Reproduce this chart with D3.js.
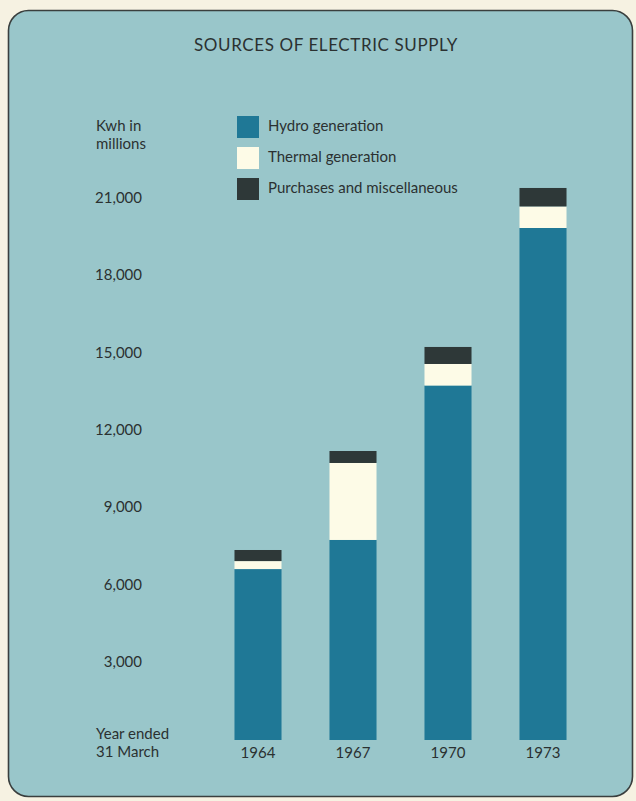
<!DOCTYPE html>
<html>
<head>
<meta charset="utf-8">
<script src="https://cdn.jsdelivr.net/npm/d3@7/dist/d3.min.js"></script>
<style>
  html, body { margin: 0; padding: 0; background: #f6f2e2; }
  svg { display: block; }
  text { font-family: Lato, "Open Sans", sans-serif; fill: #2b3131; }
</style>
</head>
<body>
<svg id="chart" width="636" height="801"></svg>
<script>
// ---- data ----
const years = ["1964", "1967", "1970", "1973"];
const hydro = [6630, 7760, 13750, 19860];
const thermal = [310, 2985, 835, 835];
const purchases = [430, 465, 660, 717];
const seriesNames = ["Hydro generation", "Thermal generation", "Purchases and miscellaneous"];
const seriesKeys = ["hydro", "thermal", "purchases"];
const tickValues = [3000, 6000, 9000, 12000, 15000, 18000, 21000];

const colors = { hydro: "#1f7896", thermal: "#fdfbe7", purchases: "#2e3838" };

const rows = years.map((y, i) => ({ year: y, hydro: hydro[i], thermal: thermal[i], purchases: purchases[i] }));

const svg = d3.select("#chart");

// panel
svg.append("rect")
  .attr("x", 8.5).attr("y", 10.5)
  .attr("width", 624).attr("height", 786)
  .attr("rx", 20).attr("ry", 20)
  .attr("fill", "#99c6ca")
  .attr("stroke", "#3a3f3e").attr("stroke-width", 1.6);

// title
svg.append("text")
  .attr("x", 326).attr("y", 51)
  .attr("text-anchor", "middle")
  .style("font-size", "17px")
  .style("letter-spacing", "0.6px")
  .text("SOURCES OF ELECTRIC SUPPLY");

// scales
const x = d3.scaleBand().domain(years).range([210.5, 590.5]).paddingInner(0.505).paddingOuter(0.2525);
const y = d3.scaleLinear().domain([0, 21000]).range([740, 198.6]);

// stacked bars
const stack = d3.stack().keys(seriesKeys);
const layers = stack(rows);

svg.append("g").selectAll("g")
  .data(layers)
  .join("g")
  .attr("fill", d => colors[d.key])
  .selectAll("rect")
  .data(d => d)
  .join("rect")
  .attr("x", d => x(d.data.year))
  .attr("width", x.bandwidth())
  .attr("y", d => y(d[1]))
  .attr("height", d => y(d[0]) - y(d[1]));

// y axis
const yAxis = d3.axisLeft(y).tickValues(tickValues).tickSize(0).tickPadding(0).tickFormat(d3.format(","));
const gy = svg.append("g").attr("transform", "translate(142,-1)").call(yAxis);
gy.select(".domain").remove();
gy.selectAll("text").style("font-size", "15px").style("font-family", "Lato, sans-serif").attr("fill", "#2b3131");

// x axis
const xAxis = d3.axisBottom(x).tickSize(0).tickPadding(0);
const gx = svg.append("g").attr("transform", "translate(0,747)").call(xAxis);
gx.select(".domain").remove();
gx.selectAll("text").style("font-size", "15px").style("font-family", "Lato, sans-serif").attr("fill", "#2b3131");

// axis captions
svg.append("text").attr("x", 96).attr("y", 131).style("font-size", "15px").text("Kwh in");
svg.append("text").attr("x", 96).attr("y", 149).style("font-size", "15px").text("millions");
svg.append("text").attr("x", 96).attr("y", 739).style("font-size", "15px").text("Year ended");
svg.append("text").attr("x", 96).attr("y", 757).style("font-size", "15px").text("31 March");

// legend
const legend = svg.append("g").attr("transform", "translate(237,116)");
const li = legend.selectAll("g").data(seriesKeys).join("g")
  .attr("transform", (d, i) => `translate(0,${i * 31})`);
li.append("rect").attr("width", 22).attr("height", 22).attr("fill", d => colors[d]);
li.append("text").attr("x", 31).attr("y", 15).style("font-size", "15px")
  .text((d, i) => seriesNames[i]);
</script>
</body>
</html>
